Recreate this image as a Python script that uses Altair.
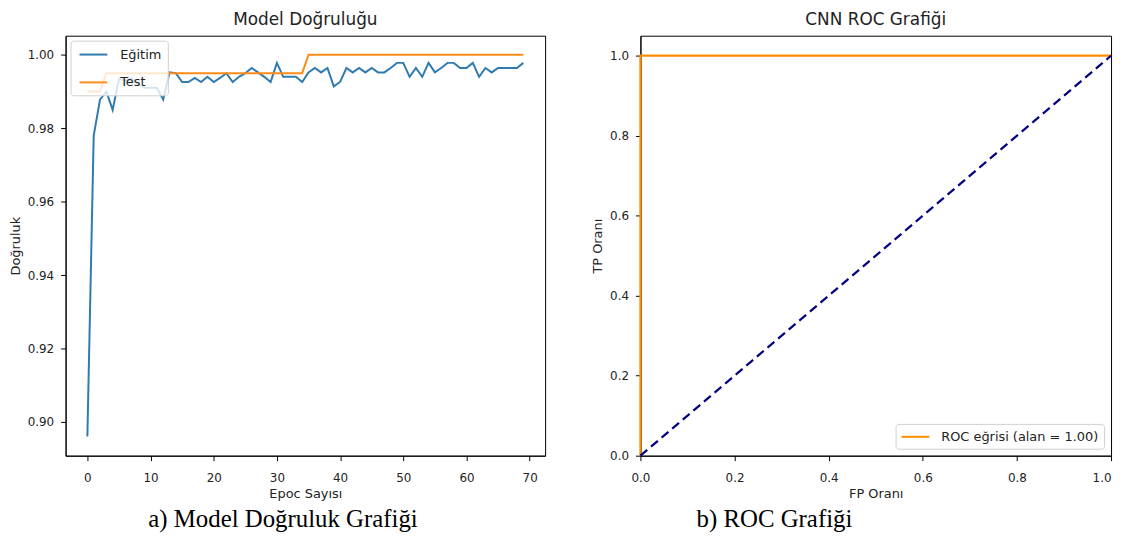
import altair as alt
import pandas as pd

# ---- data: accuracy per epoch ----
epochs = list(range(70))
train_acc = [0.896, 0.978, 0.9878, 0.990, 0.985, 0.9935, 0.993, 0.9935, 0.992, 0.991,
             0.991, 0.991, 0.9878, 0.9952, 0.995, 0.9926, 0.9926, 0.9937, 0.9926, 0.994,
             0.9926, 0.9937, 0.995, 0.9926, 0.994, 0.995, 0.9964, 0.9952, 0.994, 0.9926,
             0.9978, 0.994, 0.994, 0.994, 0.9926, 0.9952, 0.9964, 0.9952, 0.9964, 0.9914,
             0.9926, 0.9964, 0.9952, 0.9964, 0.9952, 0.9964, 0.9952, 0.9952, 0.9964, 0.9978,
             0.9978, 0.994, 0.9964, 0.994, 0.9978, 0.9952, 0.9964, 0.9978, 0.9978, 0.9964,
             0.9964, 0.9978, 0.994, 0.9964, 0.9952, 0.9964, 0.9964, 0.9964, 0.9964, 0.9978]
test_acc = [0.990, 0.990, 0.990, 0.995, 0.995, 0.995, 0.995, 0.995, 0.995, 0.995,
            0.995, 0.995, 0.995, 0.995, 0.995, 0.995, 0.995, 0.995, 0.995, 0.995,
            0.995, 0.995, 0.995, 0.995, 0.995, 0.995, 0.995, 0.995, 0.995, 0.995,
            0.995, 0.995, 0.995, 0.995, 0.995, 1.0, 1.0, 1.0, 1.0, 1.0,
            1.0, 1.0, 1.0, 1.0, 1.0, 1.0, 1.0, 1.0, 1.0, 1.0,
            1.0, 1.0, 1.0, 1.0, 1.0, 1.0, 1.0, 1.0, 1.0, 1.0,
            1.0, 1.0, 1.0, 1.0, 1.0, 1.0, 1.0, 1.0, 1.0, 1.0]
series_names = ["Eğitim", "Test"]
acc_ticks_x = [0, 10, 20, 30, 40, 50, 60, 70]
acc_ticks_y = [0.90, 0.92, 0.94, 0.96, 0.98, 1.00]

# ---- data: ROC ----
fpr = [0.0, 0.0, 1.0]
tpr = [0.0, 1.0, 1.0]
diag_x = [0.0, 1.0]
diag_y = [0.0, 1.0]
roc_label = "ROC eğrisi (alan = 1.00)"
roc_ticks = [0.0, 0.2, 0.4, 0.6, 0.8, 1.0]

# ---- captions ----
captions = ["a) Model Doğruluk Grafiği", "b) ROC Grafiği"]

acc_df = pd.DataFrame({
    "epoch": epochs + epochs,
    "acc": train_acc + test_acc,
    "series": [series_names[0]] * len(epochs) + [series_names[1]] * len(epochs),
})
roc_df = pd.DataFrame({"fpr": fpr, "tpr": tpr, "label": [roc_label] * len(fpr),
                       "idx": list(range(len(fpr)))})
diag_df = pd.DataFrame({"fpr": diag_x, "tpr": diag_y})

FONT = "DejaVu Sans"
legend_common = dict(
    title=None, symbolType="M-2,0H2", symbolSize=196, symbolStrokeWidth=2,
    labelFont=FONT, labelFontSize=13, labelColor="#222",
    fillColor="rgba(255,255,255,0.8)", strokeColor="#d0d0d0", cornerRadius=3,
)

left = alt.Chart(acc_df).mark_line(strokeWidth=2).encode(
    x=alt.X("epoch:Q", title="Epoc Sayısı",
            scale=alt.Scale(domain=[-3.45, 72.45], nice=False, zero=False),
            axis=alt.Axis(values=acc_ticks_x)),
    y=alt.Y("acc:Q", title="Doğruluk",
            scale=alt.Scale(domain=[0.8908, 1.0052], nice=False, zero=False),
            axis=alt.Axis(values=acc_ticks_y, format=".2f")),
    color=alt.Color("series:N",
                    scale=alt.Scale(domain=series_names, range=["#2f7bb0", "#ff8c1a"]),
                    legend=alt.Legend(orient="top-left", offset=5, padding=6,
                                      rowPadding=13, symbolOffset=9, labelOffset=19,
                                      **legend_common)),
).properties(width=483, height=423, title="Model Doğruluğu")

roc = alt.Chart(roc_df).mark_line(strokeWidth=2.2).encode(
    x=alt.X("fpr:Q", title="FP Oranı",
            scale=alt.Scale(domain=[0, 1], nice=False),
            axis=alt.Axis(values=roc_ticks, format=".1f", labelFlush=False,
                          labelAlign=alt.condition("datum.value >= 1",
                                                   alt.value("right"),
                                                   alt.value("center")))),
    y=alt.Y("tpr:Q", title="TP Oranı",
            scale=alt.Scale(domain=[0, 1.05], nice=False),
            axis=alt.Axis(values=roc_ticks, format=".1f")),
    order="idx:Q",
    color=alt.Color("label:N", scale=alt.Scale(domain=[roc_label], range=["#ff8c00"]),
                    legend=alt.Legend(orient="bottom-right", offset=7, padding=5,
                                      symbolOffset=7, labelOffset=18,
                                      **legend_common)),
)
diag = alt.Chart(diag_df).mark_line(color="#000080", strokeWidth=2.2,
                                    strokeDash=[9, 5]).encode(x="fpr:Q", y="tpr:Q")
right = alt.layer(roc, diag).properties(width=474, height=423, title="CNN ROC Grafiği")

top_row = alt.hconcat(left, right, spacing=45).resolve_scale(
    color="independent").resolve_legend(color="independent")


def caption(text, w):
    df = pd.DataFrame({"cap": [text]})
    return alt.Chart(df).mark_text(
        font="Liberation Serif", fontSize=25, color="black", baseline="middle",
        align="center"
    ).encode(text="cap:N").properties(
        width=w, height=32, view=alt.ViewBackground(strokeOpacity=0))


bottom_row = alt.hconcat(caption(captions[0], 438), caption(captions[1], 400), spacing=76)

chart = alt.vconcat(top_row, bottom_row, spacing=2).resolve_scale(
    color="independent").resolve_legend(color="independent").properties(
    padding={"left": 0, "top": 0, "right": 0, "bottom": 0}
).configure_view(
    stroke="black", strokeWidth=1
).configure_axis(
    grid=False, domainColor="black", tickColor="black", tickSize=5,
    labelFont=FONT, labelFontSize=12, labelColor="#222", labelPadding=7,
    titleFont=FONT, titleFontSize=13, titleFontWeight="normal", titleColor="#222",
    titlePadding=5,
).configure_axisX(
    labelPadding=12, titlePadding=4
).configure_title(
    font=FONT, fontSize=17, fontWeight="normal", color="#222", offset=7
)

chart.save("out.html", embed_options={"renderer": "svg", "actions": False})
